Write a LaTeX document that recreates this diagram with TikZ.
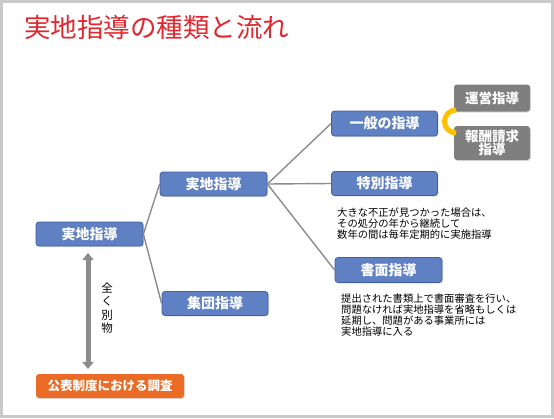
\documentclass[tikz,border=0pt]{standalone}
\usepackage{fontspec}
\setmainfont{Noto Sans CJK JP}
\usetikzlibrary{positioning,arrows.meta,calc,shadows}
\definecolor{boxFill}{HTML}{5F80C2}
\definecolor{boxStroke}{HTML}{41609E}
\definecolor{subFill}{HTML}{7F7F7F}
\definecolor{pubFill}{HTML}{E96B25}
\definecolor{linkColor}{HTML}{8C8C8C}
\definecolor{brkColor}{HTML}{FFC000}
\definecolor{ttlColor}{HTML}{E0282E}
\definecolor{frameColor}{HTML}{C9C9C9}

\begin{document}
\begin{tikzpicture}[
  x=1pt, y=-1pt,
  shd/.style   ={drop shadow={opacity=0.25, shadow xshift=1pt, shadow yshift=-1pt}},
  kind/.style  ={draw=boxStroke, fill=boxFill, rounded corners=3pt, line width=0.8pt, minimum height=24pt, text=white, font=\fontsize{14}{16}\selectfont\bfseries, inner sep=2pt, shd},
  sub/.style   ={fill=subFill, rounded corners=3pt, text=white, font=\fontsize{13.5}{16}\selectfont\bfseries, align=center, inner sep=2pt, shd},
  pub/.style   ={fill=pubFill, rounded corners=3pt, text=white, font=\fontsize{12.5}{15}\selectfont\bfseries, minimum height=24pt, inner sep=2pt, shd},
  note/.style  ={font=\fontsize{10.3}{11}\selectfont, align=left, anchor=north west, inner sep=0pt},
  link/.style  ={draw=linkColor, line width=1.4pt},
  dbl/.style   ={{Triangle[width=11pt,length=7pt]}-{Triangle[width=11pt,length=7pt]}, draw=linkColor, fill=linkColor, line width=5pt},
]

% ==================== Slide frame ====================
\fill[frameColor] (0,0) rectangle (554,418);
\fill[white] (3,2.5) rectangle (551,415);
\useasboundingbox (0,0) rectangle (554,418);

% ==================== Title ====================
\node[anchor=west, inner sep=0pt, text=ttlColor, font=\fontsize{26.5}{30}\selectfont] (title) at (24,27.5) {実地指導の種類と流れ};

% ==================== Tree of kinds ====================
\node[kind, minimum width=107pt] (jisshi)   at (89.5,234)  {実地指導};
\node[kind, minimum width=107pt] (jisshiB)  at (213.5,184) {実地指導};
\node[kind, minimum width=106pt] (shudan)   at (215,303.5) {集団指導};
\node[kind, minimum width=106pt, minimum height=25pt] (ippan) at (384.5,123.5) {一般の指導};
\node[kind, minimum width=106pt] (tokubetsu) at (384.5,183.5) {特別指導};
\node[kind, minimum width=107pt, minimum height=25pt] (shomen) at (388.5,270) {書面指導};

% sub kinds of ippan
\node[sub, minimum width=76pt, minimum height=27pt] (unei)  at (492,98)  {運営指導};
\node[sub, minimum width=76pt, minimum height=34pt] (hoshu) at (492,143) {報酬請求\\[-3pt]指導};

% ==================== Notes ====================
\node[note] (tokuNote) at (337,208) {大きな不正が見つかった場合は、\\その処分の年から継続して\\数年の間は毎年定期的に実施指導};
\node[note] (shoNote)  at (341,294) {提出された書類上で書面審査を行い、\\問題なければ実地指導を省略もしくは\\延期し、問題がある事業所には\\実地指導に入る};

% ==================== Public survey ====================
\node[pub, minimum width=148pt] (kohyo) at (110,386) {公表制度における調査};

% ==================== Connectors ====================
\draw[link] (jisshi.east) -- (jisshiB.west);
\draw[link] (jisshi.east) -- (shudan.west);
\draw[link] (jisshiB.east) -- (ippan.west);
\draw[link] (jisshiB.east) -- (tokubetsu.west);
\draw[link] (jisshiB.east) -- (shomen.west);

% yellow bracket ippan -> unei / hoshu
\draw[brkColor, line width=5pt] (456,110) arc[start angle=90, end angle=270, radius=11.5pt];

% totally separate: double arrow
\coordinate (arrTop) at (88,253);
\coordinate (arrBot) at (88,369);
\draw[dbl] (arrTop) -- (arrBot);
\node[align=center, inner sep=0pt, font=\fontsize{11.5}{13.3}\selectfont] (betsu) at (107,308) {全\\く\\別\\物};

\end{tikzpicture}
\end{document}
